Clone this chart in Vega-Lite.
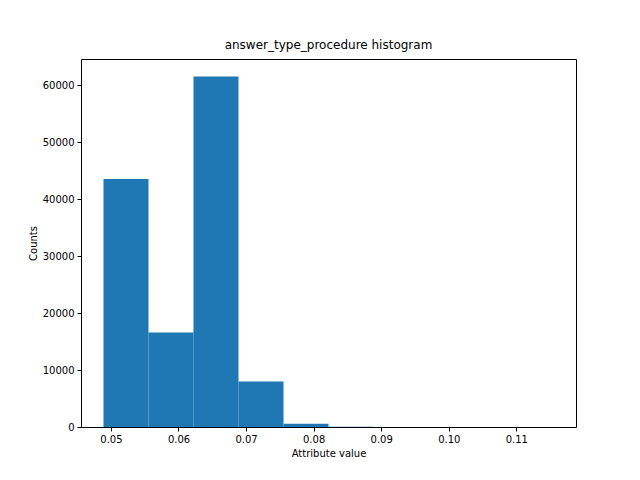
{
  "$schema": "https://vega.github.io/schema/vega-lite/v6.json",
  "width": 495,
  "height": 368,
  "autosize": {"type": "none"},
  "padding": {"left": 81, "top": 59, "right": 64, "bottom": 53},
  "background": "white",
  "title": {"text": "answer_type_procedure histogram", "font": "DejaVu Sans", "fontSize": 12, "fontWeight": "normal", "color": "black", "offset": 7},
  "config": {"view": {"stroke": "black", "strokeWidth": 1}, "font": "DejaVu Sans"},
  "data": {"values": [
    {"bin_start": 0.04890, "bin_end": 0.05556, "count": 43550},
    {"bin_start": 0.05556, "bin_end": 0.06222, "count": 16600},
    {"bin_start": 0.06222, "bin_end": 0.06888, "count": 61570},
    {"bin_start": 0.06888, "bin_end": 0.07554, "count": 8000},
    {"bin_start": 0.07554, "bin_end": 0.08220, "count": 550},
    {"bin_start": 0.08220, "bin_end": 0.08886, "count": 40},
    {"bin_start": 0.08886, "bin_end": 0.09552, "count": 10},
    {"bin_start": 0.09552, "bin_end": 0.10218, "count": 5},
    {"bin_start": 0.10218, "bin_end": 0.10884, "count": 2},
    {"bin_start": 0.10884, "bin_end": 0.11550, "count": 1}
  ]},
  "mark": {"type": "rect", "color": "#1f77b4"},
  "encoding": {
    "x": {"field": "bin_start", "type": "quantitative", "title": "Attribute value",
      "scale": {"domain": [0.04557, 0.11883], "nice": false, "zero": false},
      "axis": {"values": [0.05, 0.06, 0.07, 0.08, 0.09, 0.1, 0.11], "format": ".2f", "grid": false, "domain": false, "tickColor": "black", "tickSize": 4, "labelFontSize": 10, "labelColor": "black", "titleFontSize": 10, "titleFontWeight": "normal", "titleColor": "black", "labelPadding": 3}},
    "x2": {"field": "bin_end"},
    "y": {"field": "count", "type": "quantitative", "title": "Counts",
      "scale": {"domain": [0, 64650], "nice": false},
      "axis": {"values": [0, 10000, 20000, 30000, 40000, 50000, 60000], "format": "d", "grid": false, "domain": false, "tickColor": "black", "tickSize": 4, "labelFontSize": 10, "labelColor": "black", "titleFontSize": 10, "titleFontWeight": "normal", "titleColor": "black", "labelPadding": 3}},
    "y2": {"datum": 0}
  }
}
